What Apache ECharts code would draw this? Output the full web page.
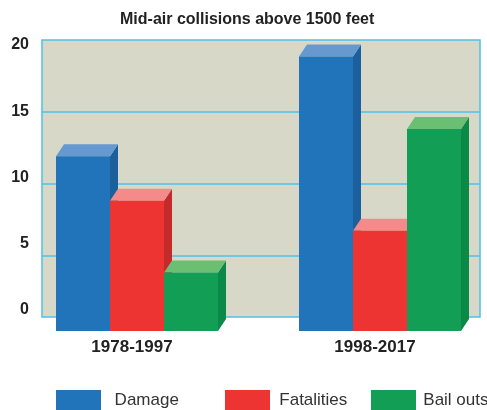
<!DOCTYPE html>
<html>
<head>
<meta charset="utf-8">
<script src="https://cdn.jsdelivr.net/npm/echarts@6/dist/echarts.min.js"></script>
<style>html,body{margin:0;padding:0;background:#fff}#c{width:487px;height:410px}</style>
</head>
<body>
<div id="c"></div>
<script>
var categories = ['1978-1997', '1998-2017'];
var seriesNames = ['Damage', 'Fatalities', 'Bail outs'];
var damage = [11.9, 18.85];
var fatalities = [8.8, 6.7];
var bailOuts = [3.8, 13.8];
var yTicks = [0, 5, 10, 15, 20];

var FONT = '"Liberation Sans", Arial, sans-serif';
var palette = [
  {front: '#2173ba', top: '#6699d0', side: '#1c5f9c'},
  {front: '#ee3433', top: '#f48a8a', side: '#c42a2a'},
  {front: '#129f55', top: '#6abf72', side: '#0a8947'}
];
var allData = [damage, fatalities, bailOuts];

function makeRender(s) {
  return function (params, api) {
    var cat = api.value(0), val = api.value(1);
    var base = api.coord([cat, 0]);
    var topPt = api.coord([cat, val]);
    var band = api.size([1, 0])[0];
    var fw = band * 54 / 243;
    var start = base[0] - band * 76 / 243;
    var x0 = start + s * fw, x1 = x0 + fw;
    var top = topPt[1], bot = base[1] + 4;
    var dx = 8, dy = 12;
    var c = palette[s];
    return {
      type: 'group',
      children: [
        {type: 'polygon', shape: {points: [[x1, top], [x1 + dx, top - dy], [x1 + dx, bot - dy], [x1, bot]]}, style: {fill: c.side}},
        {type: 'polygon', shape: {points: [[x0, top], [x0 + dx, top - dy], [x1 + dx, top - dy], [x1, top]]}, style: {fill: c.top}},
        {type: 'rect', shape: {x: x0, y: top, width: fw, height: bot - top}, style: {fill: c.front}}
      ]
    };
  };
}

var series = seriesNames.map(function (name, s) {
  return {
    name: name,
    type: 'custom',
    xAxisIndex: 3, yAxisIndex: 3,
    clip: false,
    itemStyle: {color: palette[s].front},
    renderItem: makeRender(s),
    encode: {x: 0, y: 1},
    data: allData[s].map(function (v, i) { return [i, v]; })
  };
});

function legendItem(name, left, padLeft) {
  return {data: [name], left: left, top: 390, padding: 0, itemWidth: 45, itemHeight: 21, icon: 'rect',
    textStyle: {fontFamily: FONT, fontSize: 17, color: '#333', padding: [8, 0, 0, padLeft]}};
}

var chart = echarts.init(document.getElementById('c'), null, {renderer: 'canvas'});
chart.setOption({
  animation: false,
  backgroundColor: '#ffffff',
  title: {
    text: 'Mid-air collisions above 1500 feet',
    left: 120, top: 12, padding: 0,
    textStyle: {fontFamily: FONT, fontSize: 16, fontWeight: 'bold', color: '#222'}
  },
  legend: [
    legendItem('Damage', 56, 8.6),
    legendItem('Fatalities', 225, 4.3),
    legendItem('Bail outs', 371, 2.3)
  ],
  grid: [
    {left: 42, top: 40, width: 438, height: 277, show: true, backgroundColor: '#d8d8c9', borderColor: '#4fc0e8', borderWidth: 1.5, outerBoundsMode: 'none'},
    {left: 42, top: 40, width: 438, height: 287, outerBoundsMode: 'none'},
    {left: 42, top: 45, width: 438, height: 265, outerBoundsMode: 'none'},
    {left: 10.5, top: 40, width: 486, height: 287, outerBoundsMode: 'none'}
  ],
  xAxis: [
    {gridIndex: 0, type: 'category', data: categories, show: false},
    {gridIndex: 1, type: 'category', data: categories, show: false},
    {gridIndex: 2, type: 'category', data: categories, show: false},
    {gridIndex: 3, type: 'category', data: categories,
     axisLine: {show: false}, axisTick: {show: false}, splitLine: {show: false},
     axisLabel: {margin: 12, fontFamily: FONT, fontSize: 17, fontWeight: 'bold', color: '#222'}}
  ],
  yAxis: [
    {gridIndex: 0, type: 'value', min: 0, max: 20, show: false, splitLine: {show: false}},
    {gridIndex: 1, type: 'value', min: 0, max: 20, interval: 5,
     axisLine: {show: false}, axisTick: {show: false}, axisLabel: {show: false},
     splitLine: {show: true, showMinLine: false, showMaxLine: false, lineStyle: {color: '#4fc0e8', width: 1.5}}},
    {gridIndex: 2, type: 'value', min: yTicks[0], max: yTicks[yTicks.length - 1], interval: 5,
     axisLine: {show: false}, axisTick: {show: false}, splitLine: {show: false},
     axisLabel: {margin: 13, fontFamily: FONT, fontSize: 16, fontWeight: 'bold', color: '#222'}},
    {gridIndex: 3, type: 'value', min: 0, max: 20, show: false, splitLine: {show: false}}
  ],
  series: series
});
</script>
</body>
</html>
